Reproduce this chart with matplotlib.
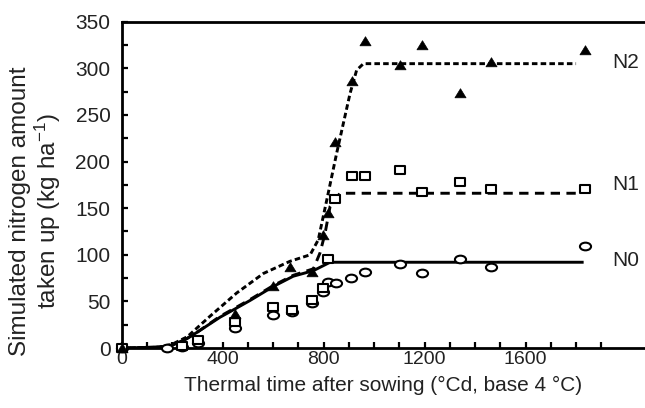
import matplotlib.pyplot as plt
from matplotlib.path import Path
from matplotlib.transforms import Affine2D

plt.rcParams['font.family'] = ['Liberation Sans', 'DejaVu Sans']
plt.rcParams['mathtext.fontset'] = 'custom'
plt.rcParams['mathtext.rm'] = 'Liberation Sans'
plt.rcParams['mathtext.it'] = 'Liberation Sans'

# Observed N uptake (kg/ha) vs thermal time (°Cd)
n0_obs_x = [0, 179, 238, 304, 450, 601, 674, 753, 799, 819, 849, 908, 964, 1103, 1191, 1341, 1462, 1836]
n0_obs_y = [0, 0, 1, 5, 21, 35, 39, 48, 60, 71, 70, 75, 82, 90, 81, 95, 87, 109]

n1_obs_x = [0, 238, 304, 450, 601, 674, 753, 799, 819, 846, 912, 964, 1103, 1191, 1341, 1462, 1836]
n1_obs_y = [0, 2, 9, 28, 44, 41, 51, 64, 95, 160, 185, 185, 191, 167, 178, 171, 171]

n2_obs_x = [0, 450, 601, 667, 753, 799, 819, 846, 912, 964, 1103, 1191, 1341, 1462, 1836]
n2_obs_y = [0, 36, 66, 87, 82, 121, 145, 221, 286, 329, 304, 325, 273, 307, 320]

# Simulated curves
n0_sim_x = [0, 150, 200, 258, 300, 390, 450, 509, 601, 680, 760, 826, 1830]
n0_sim_y = [0, 1, 3, 10, 17, 33, 42, 51, 66, 77, 83, 92, 92]

n1_sim_x = [0, 150, 200, 258, 300, 390, 450, 509, 601, 680, 760, 786, 806, 826, 865, 1815]
n1_sim_y = [0, 1, 3, 10, 17, 34, 43, 52, 67, 78, 85, 102, 123, 152, 166, 166]

n2_sim_x = [0, 150, 200, 260, 350, 456, 562, 667, 747, 779, 813, 852, 905, 931, 958, 1800]
n2_sim_y = [0, 1, 4, 12, 34, 59, 80, 93, 100, 116, 159, 209, 273, 298, 305, 305]

series_labels = ['N0', 'N1', 'N2']
label_y = [94, 175, 306]

x_ticks = list(range(0, 2000, 100))
x_ticklabels = [str(v) if v % 400 == 0 and v <= 1600 else '' for v in x_ticks]
y_ticks = list(range(0, 351, 25))
y_ticklabels = [str(v) if v % 50 == 0 else '' for v in y_ticks]

# slightly wide marker shapes, as in the original
ellipse = Path.unit_circle().transformed(Affine2D().scale(1.45, 1.0))
rect = Path([(-0.7, -0.5), (0.7, -0.5), (0.7, 0.5), (-0.7, 0.5), (-0.7, -0.5)],
            [Path.MOVETO, Path.LINETO, Path.LINETO, Path.LINETO, Path.CLOSEPOLY])
tri = Path([(-0.58, -0.45), (0.58, -0.45), (0.0, 0.5), (-0.58, -0.45)],
           [Path.MOVETO, Path.LINETO, Path.LINETO, Path.CLOSEPOLY])

fig = plt.figure(figsize=(6.45, 4.08), dpi=100)
ax = fig.add_axes([0.1884, 0.147, 0.8116, 0.7998])

# Simulated lines
ax.plot(n0_sim_x, n0_sim_y, color='black', lw=2.1, solid_capstyle='butt')
ax.plot(n1_sim_x, n1_sim_y, color='black', lw=2.1, dashes=(3.2, 2.2))
ax.plot(n2_sim_x, n2_sim_y, color='black', lw=2.1, dashes=(1.9, 1.1))

# Observations
ax.plot(n0_obs_x, n0_obs_y, ls='none', marker=ellipse, ms=8, mfc='white',
        mec='black', mew=1.5, clip_on=False, zorder=3)
ax.plot(n1_obs_x, n1_obs_y, ls='none', marker=rect, ms=7.3, mfc='white',
        mec='black', mew=1.5, clip_on=False, zorder=3)
ax.plot(n2_obs_x, n2_obs_y, ls='none', marker=tri, ms=8, mfc='black',
        mec='black', mew=0.5, clip_on=False, zorder=3)

for lab, yv in zip(series_labels, label_y):
    ax.text(1943, yv, lab, fontsize=15, va='center', ha='left', color='#222222')

ax.set_xlim(0, 2073)
ax.set_ylim(0, 350)
ax.set_xticks(x_ticks)
ax.set_xticklabels(x_ticklabels, fontsize=14, color='#222222')
ax.set_yticks(y_ticks)
ax.set_yticklabels(y_ticklabels, fontsize=15, color='#222222')
ax.tick_params(direction='in', length=4.5, width=1.6)
ax.tick_params(axis='x', pad=2)
ax.tick_params(axis='y', pad=8)

ax.spines['right'].set_visible(False)
for s in ['left', 'top', 'bottom']:
    ax.spines[s].set_linewidth(2.0)

ax.set_xlabel('Thermal time after sowing (°Cd, base 4 °C)', fontsize=15,
              labelpad=6, color='#222222')
fig.text(36 / 645, 1 - 211 / 408, 'Simulated nitrogen amount\ntaken up (kg ha$^{-1}$)',
         fontsize=17.5, rotation=90, ha='center', va='center', linespacing=1.05,
         multialignment='center', color='#222222')

fig.savefig('out.png', dpi=100)
